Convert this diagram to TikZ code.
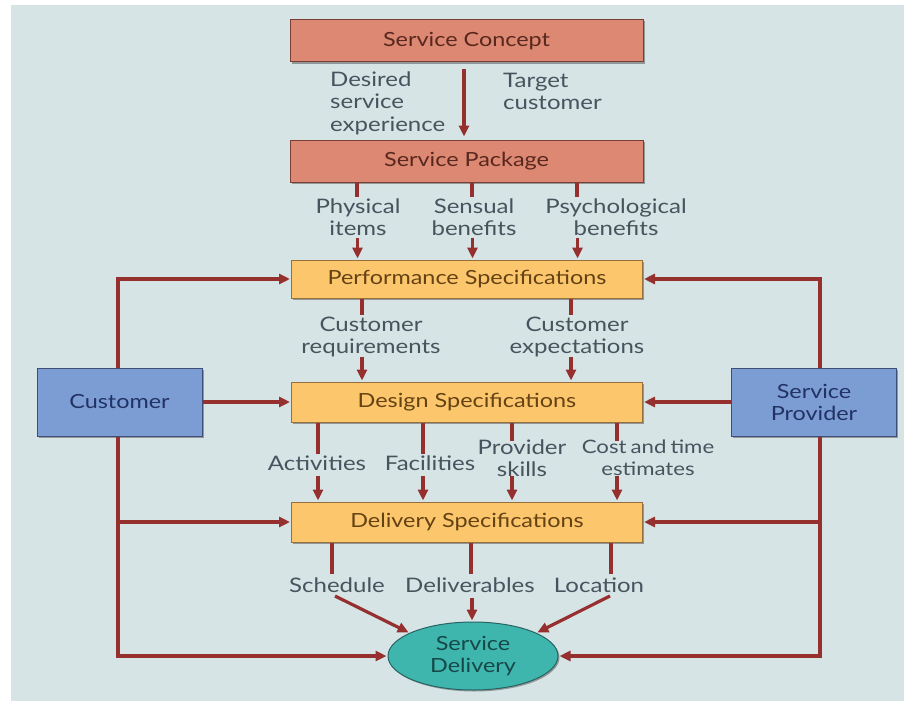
\documentclass[tikz,border=0pt]{standalone}
\usepackage{fontspec}
\setmainfont{Lato}[FakeStretch=1.2]
\usetikzlibrary{arrows.meta,shapes.geometric,shadows}
\definecolor{bgc}{RGB}{214,228,230}
\definecolor{arrc}{RGB}{150,48,46}
\definecolor{labc}{RGB}{70,84,94}
\definecolor{salf}{RGB}{220,136,114}
\definecolor{sald}{RGB}{120,64,52}
\definecolor{salt}{RGB}{88,40,30}
\definecolor{orgf}{RGB}{252,198,108}
\definecolor{orgd}{RGB}{150,112,60}
\definecolor{orgt}{RGB}{100,66,20}
\definecolor{bluf}{RGB}{124,157,211}
\definecolor{blud}{RGB}{62,78,118}
\definecolor{blut}{RGB}{34,50,100}
\definecolor{teaf}{RGB}{62,182,174}
\definecolor{tead}{RGB}{40,100,100}
\definecolor{teat}{RGB}{22,72,72}
\newcommand\mytightfont{\fontsize{18.5}{22.5}\selectfont\spaceskip=0.22em\relax}
\tikzset{
  boxbase/.style={rectangle,inner sep=0pt,line width=1pt,
    drop shadow={shadow xshift=1.5pt,shadow yshift=-1.5pt,fill=black!60,opacity=0.6},
    font=\fontsize{19.5}{22}\selectfont},
  salbox/.style={boxbase,fill=salf,draw=sald,text=salt,minimum width=353pt,minimum height=42pt},
  orgbox/.style={boxbase,fill=orgf,draw=orgd,text=orgt,minimum width=351pt,minimum height=40pt},
  blubox/.style={boxbase,fill=bluf,draw=blud,text=blut,minimum width=165pt,minimum height=68pt,align=center},
  teaell/.style={ellipse,inner sep=0pt,fill=teaf,draw=tead,line width=1pt,text=teat,
    minimum width=170pt,minimum height=68pt,align=center,font=\fontsize{19.5}{22}\selectfont,
    drop shadow={shadow xshift=1.5pt,shadow yshift=-1.5pt,fill=black!60,opacity=0.6}},
  lab/.style={inner sep=0pt,text=labc,align=center,font=\fontsize{20}{22.5}\selectfont},
  arr/.style={draw=arrc,line width=3.2pt,-{Triangle[length=11pt,width=10pt]},shorten >=1pt},
  stub/.style={draw=arrc,line width=3.2pt}
}
\begin{document}
\begin{tikzpicture}[x=1pt,y=-1pt]
\useasboundingbox (0,0) rectangle (904,701);
\fill[white] (0,0) rectangle (904,701);
\fill[bgc] (11,5) rectangle (904,701);

% main boxes
\node[salbox] (concept) at (466.5,41) {Service Concept};
\node[salbox] (package) at (466.5,161) {Service Package};
\node[orgbox,minimum height=38pt] (perf) at (467,279) {Performance Specifications};
\node[orgbox] (design) at (467,402) {Design Specifications};
\node[orgbox] (deliv) at (467,522) {Delivery Specifications};
\node[blubox] (customer) at (119.5,402) {Customer};
\node[blubox] (provider) at (814,402) {Service\\Provider};
\node[teaell] (sdel) at (473,656) {Service\\Delivery};

% labels
\node[lab,align=left,anchor=west] (l1) at (330,103) {Desired\\service\\experience};
\node[lab,align=left,anchor=west] (l2) at (503,91.5) {Target\\customer};
\node[lab] (l3) at (358,217) {Physical\\items};
\node[lab] (l4) at (474,217) {Sensual\\benefits};
\node[lab] (l5) at (616,217) {Psychological\\benefits};
\node[lab] (l6) at (371,337) {Customer\\requirements};
\node[lab] (l7) at (577,337) {Customer\\expectations};
\node[lab] (l8) at (317,463) {Activities};
\node[lab] (l9) at (430,463) {Facilities};
\node[lab] (l10) at (522,458) {Provider\\skills};
\node[lab,font=\mytightfont] (l11) at (648,458) {Cost and time\\estimates};
\node[lab] (l12) at (337,585) {Schedule};
\node[lab] (l13) at (470,585) {Deliverables};
\node[lab] (l14) at (599,585) {Location};

% concept -> package
\draw[arr] ([xshift=-2.5pt,yshift=-6pt]concept.south) -- ([xshift=-2.5pt,yshift=2pt]package.north);

% package -> performance
\foreach \dx in {-109.5,5.5,110.5}{
  \draw[stub] ([xshift=\dx pt]package.south) -- ++(0,14);
  \draw[arr] ([xshift=\dx pt,yshift=22pt]perf.north) -- ([xshift=\dx pt]perf.north);
}
% performance -> design
\foreach \dx in {-105,104}{
  \draw[stub] ([xshift=\dx pt]perf.south) -- ++(0,16);
  \draw[arr] ([xshift=\dx pt,yshift=25pt]design.north) -- ([xshift=\dx pt]design.north);
}
% design -> delivery
\foreach \dx in {-149,-44}{
  \draw[stub] ([xshift=\dx pt]design.south) -- ++(0,31);
}
\foreach \dx in {45,150}{
  \draw[stub] ([xshift=\dx pt]design.south) -- ++(0,18);
}
\foreach \dx in {-149,-44,45,150}{
  \draw[arr] ([xshift=\dx pt,yshift=26pt]deliv.north) -- ([xshift=\dx pt]deliv.north);
}
% delivery -> service delivery
\foreach \dx in {-135,4,144}{
  \draw[stub] ([xshift=\dx pt]deliv.south) -- ++(0,31);
}
\coordinate (sa) at (335,596);
\coordinate (sb) at (472,598);
\coordinate (sc) at (610,596);
\draw[arr] (sa) -- (sdel.160);
\draw[arr] (sb) -- (sdel.north -| sb);
\draw[arr] (sc) -- (sdel.20);

% customer side
\draw[arr] ([xshift=-1.5pt]customer.north) |- (perf.west);
\draw[arr] (customer.east) -- (design.west);
\draw[arr] ([xshift=-1.5pt]customer.south) |- (sdel.west);
\draw[arr] ([xshift=-1.5pt]customer.south |- deliv.west) -- (deliv.west);

% provider side
\draw[arr] ([xshift=6pt]provider.north) |- (perf.east);
\draw[arr] (provider.west) -- (design.east);
\draw[arr] ([xshift=6pt]provider.south) |- (sdel.east);
\draw[arr] ([xshift=6pt]provider.south |- deliv.east) -- (deliv.east);
\end{tikzpicture}
\end{document}
